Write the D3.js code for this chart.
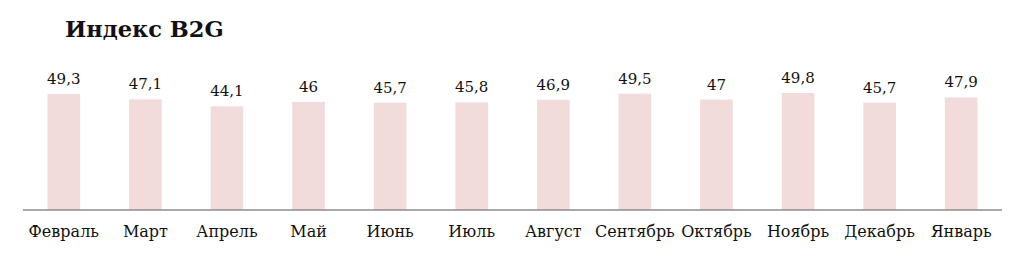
<!DOCTYPE html>
<html><head><meta charset="utf-8">
<script src="https://cdn.jsdelivr.net/npm/d3@7"></script>
<style>body{margin:0;background:#fff;}svg{display:block;} text{font-family:"DejaVu Serif","Liberation Serif",serif;}</style>
</head><body>
<script>
const categories = ["Февраль","Март","Апрель","Май","Июнь","Июль","Август","Сентябрь","Октябрь","Ноябрь","Декабрь","Январь"];
const values = [49.3,47.1,44.1,46,45.7,45.8,46.9,49.5,47,49.8,45.7,47.9];
const title = "Индекс B2G";

const W=1024,H=256;
const svg=d3.select("body").append("svg").attr("width",W).attr("height",H);
const left=23,right=1002,base=210;
const x=d3.scaleBand().domain(categories).range([left,right]).paddingInner(0.6).paddingOuter(0.3);
const y=d3.scaleLinear().domain([0,60]).range([base,base-141]);

svg.append("text").attr("x",65).attr("y",37).attr("font-weight","bold")
  .attr("font-size",22.5).attr("fill","#111").text(title);

svg.selectAll("rect.bar").data(values).join("rect").attr("class","bar")
  .attr("x",(d,i)=>x(categories[i])).attr("width",x.bandwidth())
  .attr("y",d=>y(d)).attr("height",d=>base-y(d)).attr("fill","#f2dcdb");

svg.selectAll("text.val").data(values).join("text").attr("class","val")
  .attr("x",(d,i)=>x(categories[i])+x.bandwidth()/2).attr("y",d=>y(d)-10)
  .attr("text-anchor","middle").attr("font-size",15).attr("fill","#111")
  .text(d=>String(d).replace(".",","));

const ax=d3.axisBottom(x).tickSize(0).tickPadding(16);
const g=svg.append("g").attr("transform",`translate(0,${base})`).call(ax);
g.select(".domain").attr("stroke","#8c8c8c").attr("stroke-width",1.5).attr("d",`M${left},0H${right}`);
g.selectAll("text").attr("font-size",16).attr("fill","#111");
</script>
</body></html>
